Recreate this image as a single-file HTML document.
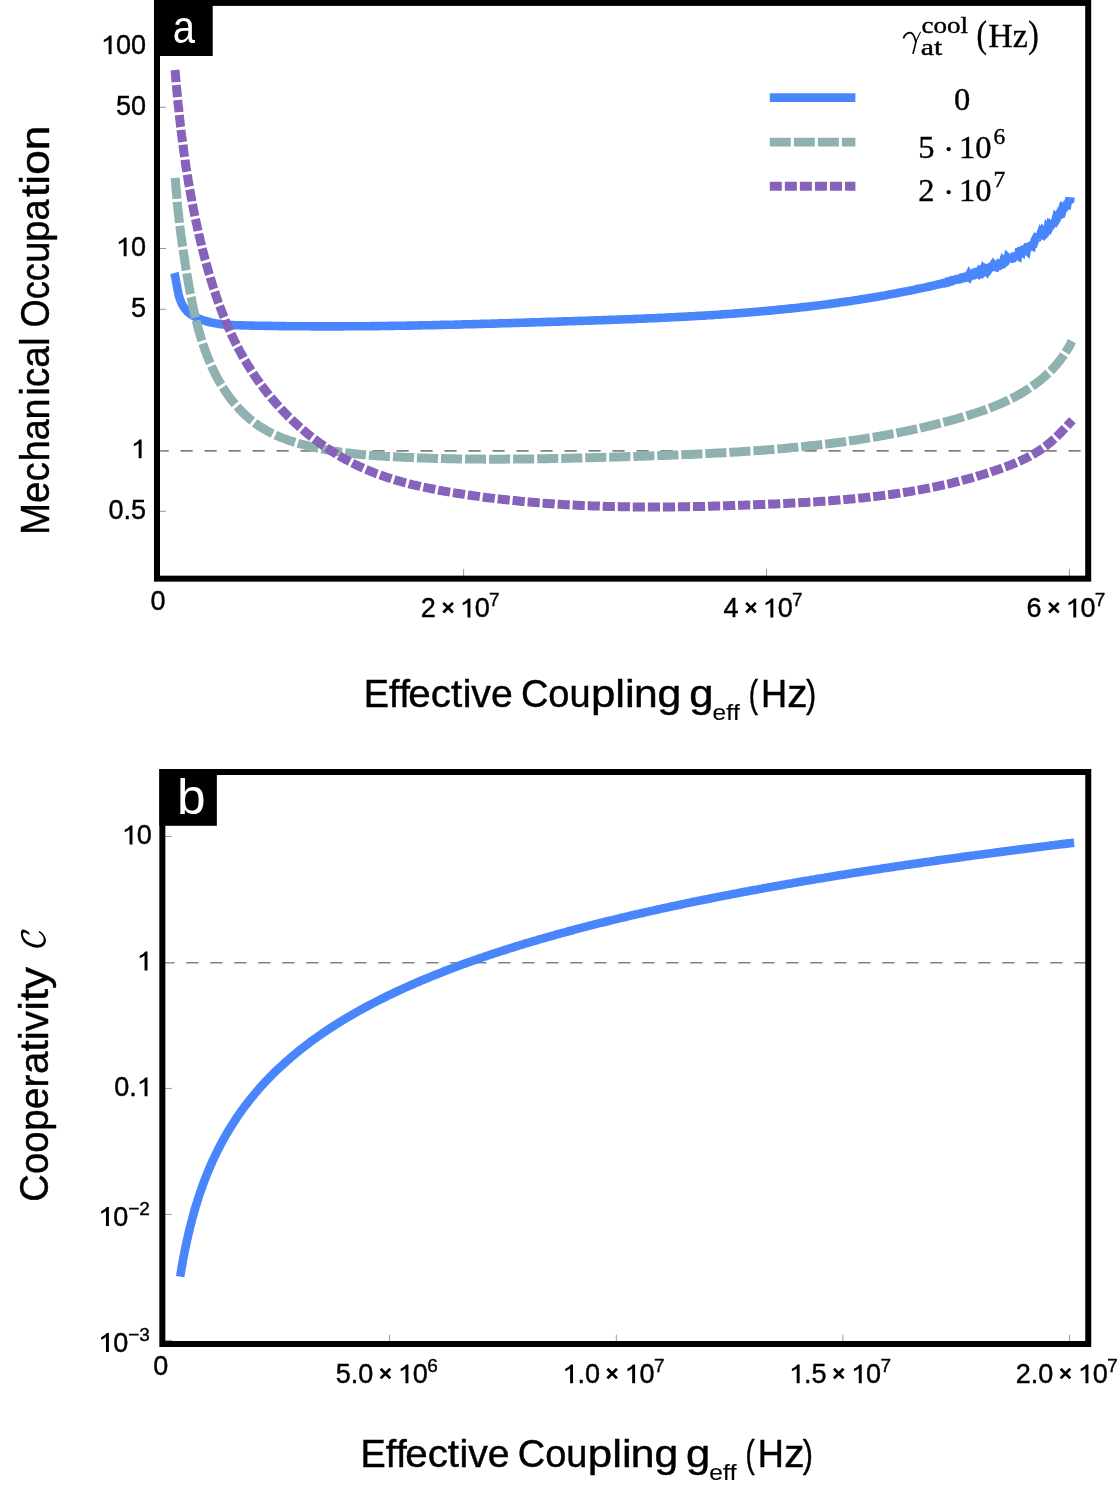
<!DOCTYPE html>
<html><head><meta charset="utf-8"><title>Figure</title>
<style>html,body{margin:0;padding:0;background:#fff;}svg{display:block;will-change:transform;}text{font-family:"Liberation Sans",sans-serif;fill:#000;}.t{font-size:27px;stroke:#000;stroke-width:0.42px;}.s{font-size:19px;stroke:#000;stroke-width:0.4px;}.ser{font-family:"Liberation Serif",serif;stroke:#000;stroke-width:0.4px;}</style></head><body>
<svg width="1117" height="1492" viewBox="0 0 1117 1492">
<rect x="0" y="0" width="1117" height="1492" fill="#fff"/>
<line x1="156.5" y1="450.95" x2="1085.5" y2="450.95" stroke="#828282" stroke-width="1.7" stroke-dasharray="12.2 11.8"/>
<line x1="159" y1="46.5" x2="166" y2="46.5" stroke="#999999" stroke-width="1"/>
<line x1="159" y1="107.3" x2="166" y2="107.3" stroke="#999999" stroke-width="1"/>
<line x1="159" y1="248.5" x2="166" y2="248.5" stroke="#999999" stroke-width="1"/>
<line x1="159" y1="309.3" x2="166" y2="309.3" stroke="#999999" stroke-width="1"/>
<line x1="159" y1="450.5" x2="166" y2="450.5" stroke="#999999" stroke-width="1"/>
<line x1="159" y1="511.3" x2="166" y2="511.3" stroke="#999999" stroke-width="1"/>
<line x1="463.6" y1="569" x2="463.6" y2="577" stroke="#999999" stroke-width="1"/>
<line x1="766.5" y1="569" x2="766.5" y2="577" stroke="#999999" stroke-width="1"/>
<line x1="1069.4" y1="569" x2="1069.4" y2="577" stroke="#999999" stroke-width="1"/>
<path d="M174.3 273.0 L174.8 274.8 L175.2 276.7 L175.6 278.6 L176.0 280.5 L176.3 282.5 L176.7 284.6 L177.0 286.6 L177.4 288.6 L177.8 290.7 L178.2 292.7 L178.6 294.7 L179.2 296.7 L179.8 298.7 L180.5 300.6 L181.2 302.4 L182.1 304.2 L183.1 306.0 L184.2 307.6 L185.3 309.2 L186.6 310.7 L188.0 312.1 L189.5 313.3 L191.1 314.5 L192.8 315.5 L194.5 316.5 L196.3 317.4 L198.1 318.3 L199.9 319.0 L201.8 319.7 L203.6 320.4 L205.5 321.0 L207.4 321.5 L209.3 322.0 L211.2 322.5 L213.2 322.9 L215.1 323.3 L217.1 323.6 L219.1 323.9 L221.1 324.1 L223.0 324.4 L225.0 324.6 L227.1 324.7 L229.1 324.9 L231.1 325.0 L233.1 325.1 L235.2 325.2 L237.2 325.3 L239.2 325.3 L241.2 325.4 L243.3 325.4 L245.3 325.5 L247.3 325.5 L249.4 325.5 L251.4 325.6 L253.4 325.6 L255.4 325.7 L257.4 325.7 L259.5 325.7 L261.5 325.8 L263.5 325.8 L265.5 325.9 L267.5 325.9 L269.5 325.9 L271.5 325.9 L273.5 326.0 L275.5 326.0 L277.5 326.0 L279.5 326.1 L281.5 326.1 L283.5 326.1 L285.5 326.1 L287.5 326.2 L289.5 326.2 L291.5 326.2 L293.5 326.2 L295.5 326.3 L297.5 326.3 L299.5 326.3 L301.5 326.3 L303.5 326.3 L305.5 326.3 L307.5 326.3 L309.5 326.3 L311.5 326.4 L313.5 326.4 L315.5 326.4 L317.5 326.4 L319.5 326.4 L321.5 326.4 L323.5 326.4 L325.5 326.4 L327.5 326.4 L329.5 326.4 L331.5 326.4 L333.5 326.4 L335.5 326.4 L337.5 326.4 L339.5 326.4 L341.5 326.4 L343.5 326.4 L345.5 326.3 L347.5 326.3 L349.5 326.3 L351.5 326.3 L353.5 326.3 L355.5 326.3 L357.5 326.3 L359.5 326.3 L361.5 326.2 L363.5 326.2 L365.5 326.2 L367.5 326.2 L369.5 326.2 L371.5 326.1 L373.5 326.1 L375.5 326.1 L377.5 326.1 L379.5 326.1 L381.5 326.0 L383.5 326.0 L385.5 326.0 L387.5 326.0 L389.5 325.9 L391.5 325.9 L393.5 325.9 L395.5 325.8 L397.5 325.8 L399.5 325.8 L401.5 325.7 L403.5 325.7 L405.5 325.7 L407.5 325.6 L409.5 325.6 L411.5 325.6 L413.5 325.5 L415.5 325.5 L417.5 325.5 L419.5 325.4 L421.5 325.4 L423.5 325.3 L425.5 325.3 L427.5 325.2 L429.5 325.2 L431.6 325.2 L433.6 325.1 L435.6 325.1 L437.6 325.0 L439.6 325.0 L441.6 324.9 L443.6 324.9 L445.6 324.8 L447.6 324.8 L449.6 324.8 L451.6 324.7 L453.6 324.7 L455.6 324.6 L457.6 324.6 L459.6 324.5 L461.6 324.5 L463.6 324.4 L465.6 324.3 L467.6 324.3 L469.6 324.2 L471.6 324.2 L473.6 324.1 L475.6 324.1 L477.6 324.0 L479.6 324.0 L481.6 323.9 L483.6 323.9 L485.6 323.8 L487.6 323.8 L489.6 323.7 L491.6 323.6 L493.7 323.6 L495.7 323.5 L497.7 323.5 L499.7 323.4 L501.7 323.3 L503.7 323.3 L505.7 323.2 L507.7 323.2 L509.7 323.1 L511.7 323.0 L513.7 323.0 L515.7 322.9 L517.7 322.9 L519.7 322.8 L521.7 322.7 L523.7 322.7 L525.7 322.6 L527.7 322.6 L529.7 322.5 L531.7 322.4 L533.7 322.4 L535.7 322.3 L537.7 322.3 L539.7 322.2 L541.7 322.1 L543.7 322.1 L545.7 322.0 L547.7 321.9 L549.8 321.9 L551.8 321.8 L553.8 321.7 L555.8 321.7 L557.8 321.6 L559.8 321.6 L561.8 321.5 L563.8 321.4 L565.8 321.4 L567.8 321.3 L569.8 321.2 L571.8 321.2 L573.8 321.1 L575.8 321.0 L577.8 321.0 L579.8 320.9 L581.8 320.9 L583.8 320.8 L585.8 320.7 L587.8 320.7 L589.8 320.6 L591.8 320.5 L593.8 320.5 L595.8 320.4 L597.8 320.3 L599.8 320.3 L601.8 320.2 L603.8 320.1 L605.8 320.0 L607.8 320.0 L609.8 319.9 L611.9 319.8 L613.9 319.8 L615.9 319.7 L617.9 319.6 L619.9 319.5 L621.9 319.5 L623.9 319.4 L625.9 319.3 L627.9 319.2 L629.9 319.2 L631.9 319.1 L633.9 319.0 L635.9 318.9 L637.9 318.8 L639.9 318.8 L641.9 318.7 L643.9 318.6 L645.9 318.5 L647.9 318.4 L649.9 318.3 L651.9 318.3 L653.9 318.2 L655.9 318.1 L657.9 318.0 L659.9 317.9 L661.9 317.8 L663.9 317.7 L665.9 317.6 L667.9 317.5 L669.9 317.4 L671.9 317.3 L673.9 317.2 L675.9 317.1 L677.9 317.0 L679.9 316.9 L681.9 316.8 L683.9 316.7 L685.9 316.6 L687.9 316.5 L689.9 316.4 L691.9 316.3 L693.9 316.2 L695.9 316.0 L697.9 315.9 L699.9 315.8 L701.9 315.7 L703.9 315.6 L705.9 315.5 L707.9 315.3 L709.9 315.2 L711.9 315.1 L713.9 315.0 L715.9 314.8 L717.9 314.7 L719.9 314.6 L721.9 314.4 L723.9 314.3 L725.8 314.1 L727.8 314.0 L729.8 313.9 L731.8 313.7 L733.8 313.6 L735.8 313.4 L737.8 313.3 L739.8 313.1 L741.8 313.0 L743.8 312.8 L745.8 312.7 L747.8 312.5 L749.8 312.3 L751.8 312.2 L753.8 312.0 L755.8 311.8 L757.8 311.7 L759.8 311.5 L761.8 311.3 L763.7 311.1 L765.7 311.0 L767.7 310.8 L769.7 310.6 L771.7 310.4 L773.7 310.2 L775.7 310.0 L777.7 309.8 L779.7 309.6 L781.7 309.4 L783.7 309.2 L785.7 309.0 L787.6 308.8 L789.6 308.6 L791.6 308.4 L793.6 308.2 L795.6 308.0 L797.6 307.8 L799.6 307.6 L801.6 307.3 L803.6 307.1 L805.6 306.9 L807.5 306.7 L809.5 306.4 L811.5 306.2 L813.5 305.9 L815.5 305.7 L817.5 305.5 L819.5 305.2 L821.4 305.0 L823.4 304.7 L825.4 304.5 L827.4 304.2 L829.4 303.9 L831.4 303.7 L833.4 303.4 L835.3 303.1 L837.3 302.9 L839.3 302.6 L841.3 302.3 L843.3 302.0 L845.3 301.7 L847.3 301.4 L849.2 301.2 L851.2 300.9 L853.2 300.6 L855.2 300.3 L857.2 300.0 L859.1 299.7 L861.1 299.3 L863.1 299.0 L865.1 298.7 L867.1 298.4 L869.0 298.1 L871.0 297.7 L873.0 297.4 L875.0 297.1 L877.0 296.7 L878.9 296.4 L880.9 296.1 L882.9 295.7 L884.9 295.4 L886.9 295.0 L888.8 294.6 L890.8 294.3 L892.8 293.9 L894.8 293.5 L896.7 293.2 L898.7 292.8 L900.7 292.4 L902.7 292.0 L904.6 291.6 L906.6 291.3 L908.6 290.9 L910.6 290.5 L912.5 290.1 L914.5 289.7 L916.5 289.2 L918.4 288.8 L920.4 288.4 L922.4 288.0 L924.4 287.6 L926.3 287.1 L928.3 286.7 L930.3 286.3" fill="none" stroke="#4a86fb" stroke-width="8.6" stroke-linejoin="round"/>
<path d="M928.3 286.7 L930.3 286.3 L932.2 285.8 L933.0 285.6 L933.8 285.5 L934.6 285.3 L935.4 285.1 L936.1 284.9 L936.9 284.7 L937.7 284.5 L938.5 284.4 L939.3 284.2 L940.0 284.1 L940.8 283.9 L941.6 283.6 L942.4 283.3 L943.2 283.2 L943.9 283.3 L944.7 282.7 L945.5 282.7 L946.3 282.8 L947.0 282.0 L947.8 282.2 L948.6 282.2 L949.4 281.4 L950.1 281.4 L950.9 281.4 L951.7 280.5 L952.5 280.7 L953.2 280.7 L954.0 280.4 L954.8 280.0 L955.6 279.4 L956.3 279.5 L957.1 279.1 L957.9 279.1 L958.6 278.8 L959.4 279.3 L960.2 279.1 L960.9 278.1 L961.7 278.1 L962.5 277.3 L963.2 277.2 L964.0 277.0 L964.8 277.5 L965.5 276.9 L966.3 277.1 L967.1 277.3 L967.8 276.3 L968.6 276.9 L969.4 275.0 L970.1 276.0 L970.9 275.0 L971.6 274.8 L972.4 275.0 L973.2 274.3 L973.9 273.7 L974.7 272.3 L975.4 272.1 L976.2 273.6 L976.9 273.1 L977.7 273.5 L978.5 274.1 L979.2 273.2 L980.0 271.2 L980.7 271.7 L981.5 272.3 L982.2 270.9 L983.0 272.7 L983.7 272.3 L984.5 271.6 L985.2 270.0 L985.9 270.7 L986.7 268.0 L987.4 268.0 L988.2 268.5 L988.9 269.4 L989.6 268.5 L990.4 267.3 L991.1 267.3 L991.9 266.6 L992.6 265.8 L993.3 264.7 L994.1 265.6 L994.8 265.8 L995.5 267.0 L996.2 267.2 L997.0 265.7 L997.7 264.9 L998.4 265.7 L999.1 265.7 L999.9 264.3 L1000.6 264.3 L1001.3 264.3 L1002.0 260.1 L1002.7 263.3 L1003.5 260.6 L1004.2 261.2 L1004.9 262.4 L1005.6 261.8 L1006.3 259.0 L1007.0 260.9 L1007.7 258.0 L1008.4 258.7 L1009.1 260.0 L1009.8 257.7 L1010.5 257.8 L1011.2 258.4 L1011.9 258.7 L1012.6 258.5 L1013.3 255.2 L1014.0 256.3 L1014.7 255.8 L1015.4 253.3 L1016.0 254.7 L1016.7 254.9 L1017.4 255.7 L1018.1 256.1 L1018.8 252.4 L1019.4 252.4 L1020.1 253.8 L1020.8 251.0 L1021.4 251.0 L1022.1 251.6 L1022.8 248.9 L1023.4 250.6 L1024.1 250.0 L1024.7 246.3 L1025.4 248.4 L1026.0 249.4 L1026.7 250.1 L1027.3 246.3 L1028.0 245.2 L1028.6 247.5 L1029.3 247.0 L1029.9 243.7 L1030.5 244.6 L1031.2 245.6 L1031.8 245.9 L1032.4 242.3 L1033.0 243.8 L1033.7 243.8 L1034.3 242.0 L1034.9 239.8 L1035.5 238.7 L1036.1 239.2 L1036.7 240.9 L1037.3 237.3 L1037.9 236.9 L1038.5 238.2 L1039.1 236.7 L1039.7 235.9 L1040.3 234.3 L1040.9 235.4 L1041.5 235.0 L1042.1 233.6 L1042.7 232.1 L1043.2 232.8 L1043.8 233.7 L1044.4 234.5 L1044.9 234.0 L1045.5 230.0 L1046.1 228.3 L1046.6 231.1 L1047.2 230.7 L1047.7 227.9 L1048.3 228.5 L1048.8 228.8 L1049.4 227.6 L1049.9 228.6 L1050.5 224.8 L1051.0 225.1 L1051.5 224.4 L1052.1 223.0 L1052.6 225.7 L1053.1 221.5 L1053.6 223.9 L1054.1 220.9 L1054.7 221.7 L1055.2 221.2 L1055.7 219.3 L1056.2 220.0 L1056.7 219.2 L1057.2 217.5 L1057.7 218.5 L1058.1 215.2 L1058.6 214.5 L1059.1 215.0 L1059.6 214.9 L1060.1 213.9 L1060.5 216.8 L1061.0 215.2 L1061.4 210.8 L1061.9 210.7 L1062.4 208.9 L1062.8 209.2 L1063.2 207.7 L1063.7 208.0 L1064.1 209.1 L1064.6 206.5 L1065.0 207.4 L1065.4 206.9 L1065.8 207.4 L1066.2 203.5 L1066.7 205.5 L1067.1 205.5 L1067.5 203.0 L1067.9 201.0 L1068.2 201.9 L1068.6 201.4 L1069.0 200.4 L1069.4 197.8 L1069.8 201.1 L1070.1 200.6 L1070.5 197.3" fill="none" stroke="#4a86fb" stroke-width="8.6" stroke-linejoin="miter" stroke-miterlimit="2.5"/>
<path d="M175.2 177.9 L175.4 179.9 L175.5 182.0 L175.7 184.0 L175.8 186.0 L176.0 188.1 L176.2 190.1 L176.3 192.1 L176.5 194.1 L176.7 196.1 L176.9 198.1 L177.1 200.1 L177.2 202.1 L177.4 204.1 L177.6 206.1 L177.8 208.1 L178.0 210.1 L178.2 212.1 L178.5 214.1 L178.7 216.1 L178.9 218.0 L179.1 220.0 L179.4 222.0 L179.6 224.0 L179.8 225.9 L180.1 227.9 L180.3 229.9 L180.6 231.8 L180.8 233.8 L181.1 235.8 L181.3 237.7 L181.6 239.7 L181.9 241.6 L182.1 243.6 L182.4 245.6 L182.7 247.5 L183.0 249.5 L183.3 251.4 L183.6 253.4 L183.9 255.4 L184.2 257.3 L184.5 259.3 L184.8 261.2 L185.1 263.2 L185.4 265.2 L185.7 267.1 L186.0 269.1 L186.4 271.1 L186.7 273.0 L187.0 275.0 L187.4 277.0 L187.7 278.9 L188.1 280.9 L188.4 282.9 L188.8 284.9 L189.1 286.9 L189.5 288.8 L189.8 290.8 L190.2 292.8 L190.6 294.8 L191.0 296.8 L191.4 298.7 L191.8 300.7 L192.2 302.7 L192.6 304.7 L193.0 306.7 L193.4 308.7 L193.9 310.6 L194.3 312.6 L194.8 314.6 L195.2 316.6 L195.7 318.5 L196.2 320.5 L196.7 322.5 L197.2 324.4 L197.7 326.4 L198.2 328.3 L198.7 330.3 L199.3 332.2 L199.9 334.2 L200.4 336.1 L201.0 338.0 L201.6 340.0 L202.2 341.9 L202.8 343.8 L203.5 345.7 L204.1 347.6 L204.8 349.5 L205.5 351.4 L206.2 353.2 L206.9 355.1 L207.6 357.0 L208.4 358.8 L209.1 360.7 L209.9 362.5 L210.7 364.4 L211.5 366.2 L212.3 368.0 L213.2 369.8 L214.0 371.6 L214.9 373.4 L215.8 375.1 L216.8 376.9 L217.7 378.7 L218.7 380.4 L219.6 382.1 L220.6 383.8 L221.7 385.6 L222.7 387.2 L223.8 388.9 L224.9 390.6 L226.0 392.3 L227.1 393.9 L228.3 395.5 L229.4 397.1 L230.6 398.7 L231.9 400.3 L233.1 401.9 L234.4 403.4 L235.7 404.9 L237.0 406.4 L238.3 407.9 L239.6 409.4 L241.0 410.8 L242.4 412.2 L243.8 413.6 L245.3 415.0 L246.7 416.3 L248.2 417.6 L249.7 418.9 L251.3 420.2 L252.8 421.4 L254.4 422.6 L256.0 423.8 L257.6 424.9 L259.2 426.1 L260.9 427.1 L262.6 428.2 L264.3 429.2 L266.0 430.2 L267.7 431.2 L269.5 432.1 L271.2 433.0 L273.0 433.9 L274.8 434.8 L276.6 435.6 L278.5 436.4 L280.3 437.2 L282.2 437.9 L284.1 438.6 L285.9 439.3 L287.8 440.0 L289.7 440.7 L291.6 441.3 L293.6 441.9 L295.5 442.5 L297.4 443.1 L299.3 443.7 L301.3 444.2 L303.2 444.7 L305.2 445.2 L307.2 445.7 L309.1 446.2 L311.1 446.7 L313.0 447.1 L315.0 447.5 L317.0 448.0 L318.9 448.4 L320.9 448.8 L322.9 449.1 L324.9 449.5 L326.8 449.9 L328.8 450.2 L330.8 450.6 L332.8 450.9 L334.8 451.2 L336.7 451.5 L338.7 451.8 L340.7 452.1 L342.7 452.3 L344.7 452.6 L346.7 452.9 L348.7 453.1 L350.6 453.3 L352.6 453.6 L354.6 453.8 L356.6 454.0 L358.6 454.2 L360.6 454.4 L362.6 454.6 L364.6 454.8 L366.6 455.0 L368.6 455.1 L370.6 455.3 L372.6 455.4 L374.6 455.6 L376.6 455.7 L378.6 455.9 L380.6 456.0 L382.6 456.1 L384.6 456.3 L386.6 456.4 L388.6 456.5 L390.6 456.6 L392.6 456.7 L394.6 456.8 L396.6 456.9 L398.6 457.0 L400.6 457.1 L402.6 457.2 L404.6 457.3 L406.6 457.4 L408.6 457.5 L410.6 457.5 L412.6 457.6 L414.6 457.7 L416.6 457.8 L418.6 457.9 L420.6 457.9 L422.6 458.0 L424.6 458.1 L426.6 458.1 L428.6 458.2 L430.6 458.3 L432.6 458.3 L434.6 458.4 L436.6 458.4 L438.6 458.5 L440.6 458.5 L442.6 458.6 L444.6 458.6 L446.6 458.7 L448.6 458.7 L450.6 458.8 L452.6 458.8 L454.6 458.8 L456.6 458.9 L458.6 458.9 L460.6 458.9 L462.6 459.0 L464.6 459.0 L466.6 459.0 L468.6 459.0 L470.6 459.1 L472.5 459.1 L474.5 459.1 L476.5 459.1 L478.5 459.1 L480.5 459.1 L482.5 459.1 L484.5 459.2 L486.5 459.2 L488.5 459.2 L490.5 459.2 L492.5 459.2 L494.5 459.2 L496.5 459.2 L498.5 459.2 L500.5 459.2 L502.5 459.2 L504.5 459.2 L506.5 459.1 L508.5 459.1 L510.5 459.1 L512.5 459.1 L514.5 459.1 L516.5 459.1 L518.5 459.1 L520.5 459.1 L522.5 459.0 L524.5 459.0 L526.5 459.0 L528.5 459.0 L530.5 458.9 L532.5 458.9 L534.5 458.9 L536.5 458.9 L538.5 458.8 L540.5 458.8 L542.5 458.8 L544.5 458.7 L546.5 458.7 L548.5 458.7 L550.5 458.6 L552.5 458.6 L554.5 458.6 L556.5 458.5 L558.5 458.5 L560.5 458.4 L562.5 458.4 L564.5 458.4 L566.5 458.3 L568.5 458.3 L570.5 458.2 L572.5 458.2 L574.5 458.1 L576.5 458.1 L578.5 458.0 L580.5 458.0 L582.5 457.9 L584.5 457.9 L586.5 457.8 L588.5 457.8 L590.5 457.7 L592.5 457.7 L594.5 457.6 L596.5 457.6 L598.5 457.5 L600.5 457.5 L602.5 457.4 L604.5 457.3 L606.5 457.3 L608.5 457.2 L610.5 457.2 L612.5 457.1 L614.5 457.0 L616.5 457.0 L618.5 456.9 L620.5 456.9 L622.5 456.8 L624.5 456.7 L626.5 456.7 L628.5 456.6 L630.5 456.6 L632.5 456.5 L634.5 456.4 L636.6 456.4 L638.6 456.3 L640.6 456.2 L642.6 456.2 L644.6 456.1 L646.6 456.0 L648.6 456.0 L650.6 455.9 L652.6 455.8 L654.6 455.8 L656.6 455.7 L658.6 455.6 L660.6 455.6 L662.6 455.5 L664.6 455.4 L666.6 455.3 L668.6 455.3 L670.6 455.2 L672.6 455.1 L674.6 455.0 L676.6 455.0 L678.6 454.9 L680.6 454.8 L682.6 454.7 L684.6 454.6 L686.6 454.5 L688.6 454.5 L690.6 454.4 L692.6 454.3 L694.6 454.2 L696.6 454.1 L698.6 454.0 L700.6 453.9 L702.6 453.8 L704.6 453.7 L706.6 453.6 L708.6 453.5 L710.6 453.4 L712.6 453.3 L714.6 453.2 L716.6 453.1 L718.6 453.0 L720.6 452.9 L722.6 452.8 L724.6 452.7 L726.6 452.6 L728.6 452.5 L730.6 452.3 L732.6 452.2 L734.6 452.1 L736.6 452.0 L738.6 451.9 L740.6 451.7 L742.6 451.6 L744.6 451.5 L746.6 451.3 L748.6 451.2 L750.6 451.1 L752.6 450.9 L754.6 450.8 L756.6 450.6 L758.6 450.5 L760.6 450.4 L762.6 450.2 L764.6 450.0 L766.5 449.9 L768.5 449.7 L770.5 449.6 L772.5 449.4 L774.5 449.2 L776.5 449.1 L778.5 448.9 L780.5 448.7 L782.5 448.6 L784.5 448.4 L786.5 448.2 L788.5 448.0 L790.5 447.8 L792.4 447.6 L794.4 447.5 L796.4 447.3 L798.4 447.1 L800.4 446.9 L802.4 446.7 L804.4 446.5 L806.4 446.2 L808.4 446.0 L810.3 445.8 L812.3 445.6 L814.3 445.4 L816.3 445.2 L818.3 444.9 L820.3 444.7 L822.3 444.5 L824.3 444.2 L826.2 444.0 L828.2 443.8 L830.2 443.5 L832.2 443.3 L834.2 443.0 L836.2 442.7 L838.1 442.5 L840.1 442.2 L842.1 442.0 L844.1 441.7 L846.1 441.4 L848.0 441.1 L850.0 440.8 L852.0 440.6 L854.0 440.3 L855.9 440.0 L857.9 439.7 L859.9 439.4 L861.9 439.1 L863.8 438.8 L865.8 438.5 L867.8 438.1 L869.8 437.8 L871.7 437.5 L873.7 437.2 L875.7 436.8 L877.7 436.5 L879.6 436.2 L881.6 435.8 L883.6 435.5 L885.5 435.1 L887.5 434.7 L889.5 434.4 L891.4 434.0 L893.4 433.6 L895.4 433.3 L897.3 432.9 L899.3 432.5 L901.2 432.1 L903.2 431.7 L905.2 431.3 L907.1 430.9 L909.1 430.5 L911.0 430.1 L913.0 429.7 L914.9 429.2 L916.9 428.8 L918.9 428.4 L920.8 427.9 L922.8 427.5 L924.7 427.0 L926.7 426.6 L928.6 426.1 L930.6 425.6 L932.5 425.2 L934.5 424.7 L936.4 424.2 L938.3 423.7 L940.3 423.2 L942.2 422.7 L944.2 422.2 L946.1 421.7 L948.0 421.2 L950.0 420.6 L951.9 420.1 L953.9 419.6 L955.8 419.0 L957.7 418.5 L959.7 417.9 L961.6 417.4 L963.5 416.8 L965.4 416.2 L967.4 415.6 L969.3 415.0 L971.2 414.4 L973.1 413.8 L975.1 413.2 L977.0 412.6 L978.9 411.9 L980.8 411.3 L982.7 410.6 L984.6 410.0 L986.5 409.3 L988.3 408.6 L990.2 407.9 L992.1 407.2 L994.0 406.4 L995.8 405.7 L997.7 404.9 L999.5 404.1 L1001.3 403.3 L1003.2 402.5 L1005.0 401.7 L1006.8 400.9 L1008.6 400.0 L1010.4 399.1 L1012.2 398.2 L1014.0 397.3 L1015.7 396.4 L1017.5 395.4 L1019.2 394.5 L1020.9 393.5 L1022.6 392.5 L1024.4 391.4 L1026.0 390.4 L1027.7 389.3 L1029.4 388.2 L1031.0 387.1 L1032.7 385.9 L1034.3 384.8 L1035.9 383.6 L1037.5 382.4 L1039.0 381.2 L1040.6 379.9 L1042.1 378.7 L1043.6 377.4 L1045.1 376.1 L1046.6 374.7 L1048.0 373.4 L1049.5 372.0 L1050.9 370.6 L1052.3 369.2 L1053.6 367.7 L1055.0 366.2 L1056.3 364.7 L1057.6 363.2 L1058.9 361.6 L1060.1 360.1 L1061.3 358.5 L1062.5 356.8 L1063.7 355.2 L1064.8 353.5 L1065.9 351.8 L1067.0 350.1 L1068.0 348.3 L1069.1 346.6 L1070.1 344.8 L1071.0 342.9 L1072.0 341.1" fill="none" stroke="#8fb1af" stroke-width="9.0" stroke-dasharray="21.1 2.95" stroke-linejoin="round"/>
<path d="M175.0 70.0 L175.2 72.0 L175.4 74.0 L175.5 76.0 L175.7 78.0 L175.9 80.0 L176.1 82.0 L176.2 84.0 L176.4 86.0 L176.6 88.0 L176.8 90.0 L177.0 92.0 L177.2 94.0 L177.3 96.0 L177.5 98.0 L177.7 100.0 L177.9 102.0 L178.1 104.0 L178.3 106.0 L178.6 108.0 L178.8 109.9 L179.0 111.9 L179.2 113.9 L179.4 115.9 L179.6 117.9 L179.8 119.9 L180.1 121.9 L180.3 123.9 L180.5 125.9 L180.8 127.8 L181.0 129.8 L181.2 131.8 L181.5 133.8 L181.7 135.8 L182.0 137.8 L182.2 139.8 L182.5 141.7 L182.8 143.7 L183.0 145.7 L183.3 147.7 L183.6 149.7 L183.8 151.6 L184.1 153.6 L184.4 155.6 L184.7 157.6 L185.0 159.6 L185.2 161.5 L185.5 163.5 L185.8 165.5 L186.1 167.5 L186.4 169.4 L186.8 171.4 L187.1 173.4 L187.4 175.4 L187.7 177.3 L188.0 179.3 L188.4 181.3 L188.7 183.2 L189.0 185.2 L189.4 187.2 L189.7 189.1 L190.1 191.1 L190.4 193.1 L190.8 195.0 L191.1 197.0 L191.5 199.0 L191.9 200.9 L192.2 202.9 L192.6 204.9 L193.0 206.8 L193.4 208.8 L193.8 210.7 L194.2 212.7 L194.6 214.7 L195.0 216.6 L195.4 218.6 L195.8 220.5 L196.2 222.5 L196.7 224.4 L197.1 226.4 L197.5 228.3 L198.0 230.3 L198.4 232.2 L198.8 234.2 L199.3 236.1 L199.8 238.1 L200.2 240.0 L200.7 242.0 L201.2 243.9 L201.6 245.9 L202.1 247.8 L202.6 249.8 L203.1 251.7 L203.6 253.6 L204.1 255.6 L204.6 257.5 L205.1 259.5 L205.7 261.4 L206.2 263.3 L206.7 265.3 L207.3 267.2 L207.8 269.1 L208.4 271.1 L208.9 273.0 L209.5 274.9 L210.1 276.9 L210.6 278.8 L211.2 280.7 L211.8 282.6 L212.4 284.5 L213.0 286.5 L213.6 288.4 L214.3 290.3 L214.9 292.2 L215.5 294.1 L216.2 296.0 L216.8 297.9 L217.5 299.8 L218.1 301.7 L218.8 303.6 L219.5 305.4 L220.2 307.3 L220.9 309.2 L221.6 311.1 L222.3 312.9 L223.1 314.8 L223.8 316.7 L224.6 318.5 L225.3 320.4 L226.1 322.2 L226.9 324.1 L227.7 325.9 L228.4 327.7 L229.3 329.5 L230.1 331.4 L230.9 333.2 L231.7 335.0 L232.6 336.8 L233.4 338.6 L234.3 340.4 L235.2 342.2 L236.1 344.0 L237.0 345.8 L237.9 347.5 L238.8 349.3 L239.8 351.1 L240.7 352.8 L241.7 354.6 L242.7 356.3 L243.6 358.0 L244.6 359.8 L245.7 361.5 L246.7 363.2 L247.7 364.9 L248.8 366.6 L249.8 368.3 L250.9 370.0 L252.0 371.7 L253.1 373.4 L254.2 375.0 L255.3 376.7 L256.4 378.3 L257.6 380.0 L258.8 381.6 L259.9 383.2 L261.1 384.8 L262.3 386.4 L263.5 388.0 L264.7 389.6 L266.0 391.2 L267.2 392.8 L268.5 394.4 L269.7 395.9 L271.0 397.5 L272.3 399.0 L273.6 400.5 L274.9 402.0 L276.2 403.5 L277.6 405.0 L278.9 406.5 L280.3 408.0 L281.6 409.5 L283.0 410.9 L284.4 412.4 L285.8 413.8 L287.2 415.3 L288.6 416.7 L290.1 418.1 L291.5 419.5 L293.0 420.9 L294.4 422.2 L295.9 423.6 L297.4 424.9 L298.9 426.3 L300.4 427.6 L301.9 428.9 L303.4 430.2 L304.9 431.5 L306.5 432.8 L308.0 434.1 L309.6 435.3 L311.1 436.6 L312.7 437.8 L314.3 439.0 L315.9 440.2 L317.5 441.4 L319.1 442.6 L320.7 443.8 L322.4 444.9 L324.0 446.1 L325.7 447.2 L327.3 448.3 L329.0 449.4 L330.6 450.5 L332.3 451.6 L334.0 452.7 L335.7 453.7 L337.4 454.7 L339.1 455.8 L340.9 456.8 L342.6 457.8 L344.3 458.7 L346.1 459.7 L347.8 460.6 L349.6 461.6 L351.3 462.5 L353.1 463.4 L354.9 464.3 L356.7 465.2 L358.5 466.0 L360.3 466.9 L362.1 467.7 L363.9 468.5 L365.7 469.3 L367.6 470.1 L369.4 470.8 L371.3 471.6 L373.1 472.3 L375.0 473.1 L376.8 473.8 L378.7 474.4 L380.6 475.1 L382.4 475.8 L384.3 476.4 L386.2 477.1 L388.1 477.7 L390.0 478.3 L391.9 478.9 L393.8 479.5 L395.7 480.1 L397.7 480.6 L399.6 481.2 L401.5 481.7 L403.4 482.3 L405.4 482.8 L407.3 483.3 L409.2 483.8 L411.2 484.3 L413.1 484.8 L415.1 485.2 L417.0 485.7 L419.0 486.1 L421.0 486.6 L422.9 487.0 L424.9 487.4 L426.9 487.8 L428.8 488.2 L430.8 488.6 L432.8 489.0 L434.8 489.4 L436.7 489.8 L438.7 490.2 L440.7 490.5 L442.7 490.9 L444.7 491.2 L446.7 491.6 L448.7 491.9 L450.6 492.2 L452.6 492.6 L454.6 492.9 L456.6 493.2 L458.6 493.5 L460.6 493.8 L462.6 494.1 L464.6 494.4 L466.6 494.7 L468.5 495.0 L470.5 495.3 L472.5 495.6 L474.5 495.9 L476.5 496.1 L478.5 496.4 L480.5 496.7 L482.5 496.9 L484.5 497.2 L486.4 497.5 L488.4 497.7 L490.4 498.0 L492.4 498.2 L494.4 498.4 L496.4 498.7 L498.4 498.9 L500.4 499.1 L502.4 499.4 L504.3 499.6 L506.3 499.8 L508.3 500.0 L510.3 500.2 L512.3 500.4 L514.3 500.6 L516.3 500.8 L518.3 501.0 L520.3 501.2 L522.3 501.4 L524.2 501.6 L526.2 501.8 L528.2 501.9 L530.2 502.1 L532.2 502.3 L534.2 502.5 L536.2 502.6 L538.2 502.8 L540.2 502.9 L542.2 503.1 L544.1 503.2 L546.1 503.4 L548.1 503.5 L550.1 503.7 L552.1 503.8 L554.1 503.9 L556.1 504.1 L558.1 504.2 L560.1 504.3 L562.1 504.4 L564.1 504.6 L566.1 504.7 L568.0 504.8 L570.0 504.9 L572.0 505.0 L574.0 505.1 L576.0 505.2 L578.0 505.3 L580.0 505.4 L582.0 505.5 L584.0 505.6 L586.0 505.7 L588.0 505.7 L590.0 505.8 L592.0 505.9 L594.0 506.0 L596.0 506.0 L598.0 506.1 L599.9 506.2 L601.9 506.2 L603.9 506.3 L605.9 506.4 L607.9 506.4 L609.9 506.5 L611.9 506.5 L613.9 506.6 L615.9 506.6 L617.9 506.6 L619.9 506.7 L621.9 506.7 L623.9 506.8 L625.9 506.8 L627.9 506.8 L629.9 506.8 L631.9 506.9 L633.9 506.9 L635.9 506.9 L637.9 506.9 L639.9 506.9 L641.9 507.0 L643.9 507.0 L645.9 507.0 L647.9 507.0 L649.9 507.0 L651.8 507.0 L653.8 507.0 L655.8 507.0 L657.8 507.0 L659.8 507.0 L661.8 507.0 L663.8 507.0 L665.8 506.9 L667.8 506.9 L669.8 506.9 L671.8 506.9 L673.8 506.9 L675.8 506.8 L677.8 506.8 L679.8 506.8 L681.8 506.8 L683.8 506.7 L685.8 506.7 L687.8 506.7 L689.8 506.6 L691.8 506.6 L693.8 506.6 L695.8 506.5 L697.8 506.5 L699.8 506.5 L701.8 506.4 L703.8 506.4 L705.8 506.3 L707.8 506.3 L709.8 506.2 L711.9 506.2 L713.9 506.1 L715.9 506.1 L717.9 506.0 L719.9 505.9 L721.9 505.9 L723.9 505.8 L725.9 505.8 L727.9 505.7 L729.9 505.6 L731.9 505.6 L733.9 505.5 L735.9 505.4 L737.9 505.4 L739.9 505.3 L741.9 505.2 L743.9 505.2 L745.9 505.1 L747.9 505.0 L749.9 504.9 L751.9 504.9 L753.9 504.8 L755.9 504.7 L757.9 504.6 L759.9 504.6 L761.9 504.5 L764.0 504.4 L766.0 504.3 L768.0 504.2 L770.0 504.1 L772.0 504.1 L774.0 504.0 L776.0 503.9 L778.0 503.8 L780.0 503.7 L782.0 503.6 L784.0 503.5 L786.0 503.4 L788.0 503.3 L790.0 503.2 L792.0 503.1 L794.0 503.0 L796.0 502.9 L798.0 502.8 L800.1 502.7 L802.1 502.6 L804.1 502.5 L806.1 502.4 L808.1 502.2 L810.1 502.1 L812.1 502.0 L814.1 501.9 L816.1 501.7 L818.1 501.6 L820.1 501.5 L822.1 501.3 L824.1 501.2 L826.1 501.1 L828.1 500.9 L830.1 500.8 L832.1 500.6 L834.1 500.5 L836.1 500.3 L838.1 500.1 L840.1 500.0 L842.1 499.8 L844.1 499.6 L846.1 499.5 L848.1 499.3 L850.1 499.1 L852.1 498.9 L854.0 498.7 L856.0 498.5 L858.0 498.3 L860.0 498.1 L862.0 497.9 L864.0 497.7 L866.0 497.5 L868.0 497.3 L870.0 497.1 L871.9 496.8 L873.9 496.6 L875.9 496.4 L877.9 496.1 L879.9 495.9 L881.9 495.6 L883.8 495.4 L885.8 495.1 L887.8 494.8 L889.8 494.6 L891.8 494.3 L893.7 494.0 L895.7 493.7 L897.7 493.4 L899.7 493.1 L901.6 492.8 L903.6 492.5 L905.6 492.2 L907.5 491.9 L909.5 491.6 L911.5 491.2 L913.4 490.9 L915.4 490.6 L917.4 490.2 L919.3 489.9 L921.3 489.5 L923.2 489.1 L925.2 488.8 L927.2 488.4 L929.1 488.0 L931.1 487.6 L933.0 487.2 L935.0 486.8 L936.9 486.4 L938.9 486.0 L940.8 485.5 L942.8 485.1 L944.7 484.7 L946.6 484.2 L948.6 483.8 L950.5 483.3 L952.5 482.9 L954.4 482.4 L956.3 481.9 L958.3 481.4 L960.2 480.9 L962.1 480.4 L964.1 479.9 L966.0 479.4 L967.9 478.9 L969.8 478.3 L971.8 477.8 L973.7 477.2 L975.6 476.7 L977.5 476.1 L979.4 475.5 L981.3 475.0 L983.3 474.4 L985.2 473.8 L987.1 473.2 L989.0 472.6 L990.9 471.9 L992.8 471.3 L994.7 470.7 L996.6 470.0 L998.5 469.4 L1000.4 468.7 L1002.3 468.0 L1004.1 467.3 L1006.0 466.7 L1007.9 465.9 L1009.8 465.2 L1011.7 464.5 L1013.5 463.7 L1015.4 463.0 L1017.2 462.2 L1019.1 461.4 L1020.9 460.6 L1022.7 459.7 L1024.5 458.9 L1026.3 458.0 L1028.1 457.1 L1029.9 456.2 L1031.6 455.2 L1033.3 454.2 L1035.1 453.2 L1036.8 452.2 L1038.5 451.1 L1040.1 450.1 L1041.8 448.9 L1043.4 447.8 L1045.0 446.6 L1046.6 445.4 L1048.2 444.1 L1049.8 442.8 L1051.3 441.5 L1052.8 440.2 L1054.3 438.8 L1055.8 437.5 L1057.2 436.1 L1058.7 434.6 L1060.1 433.2 L1061.5 431.8 L1062.9 430.3 L1064.3 428.9 L1065.7 427.4 L1067.1 425.9 L1068.4 424.5 L1069.8 423.0 L1071.1 421.6 L1072.4 420.2" fill="none" stroke="#8662ba" stroke-width="9.0" stroke-dasharray="12.2 2.85" stroke-linejoin="round"/>
<rect x="157" y="2.9" width="931.2" height="575.75" fill="none" stroke="#000" stroke-width="6"/>
<rect x="154" y="0" width="58.7" height="56" fill="#000"/>
<text x="172.8" y="43.2" style="font-size:47px;fill:#fff" textLength="22.2" lengthAdjust="spacingAndGlyphs">a</text>
<path d="M108.63 54.30 L111.56 54.30 L111.56 35.48 L109.50 35.48 Q107.70 38.10 103.79 39.67 L103.79 42.23 Q106.70 41.10 108.63 39.44 Z" fill="#000"/>
<text class="t" x="115.92" y="54.3">00</text>
<text class="t" x="115.92" y="115.1">50</text>
<path d="M123.65 256.30 L126.58 256.30 L126.58 237.48 L124.52 237.48 Q122.72 240.10 118.81 241.67 L118.81 244.23 Q121.72 243.10 123.65 241.44 Z" fill="#000"/>
<text class="t" x="130.93" y="256.3">0</text>
<text class="t" x="130.93" y="317.1">5</text>
<path d="M138.66 458.30 L141.59 458.30 L141.59 439.48 L139.53 439.48 Q137.73 442.10 133.82 443.67 L133.82 446.23 Q136.73 445.10 138.66 443.44 Z" fill="#000"/>
<text class="t" x="108.42" y="519.1">0.5</text>
<text class="t" x="150.55" y="609.8">0</text>
<text class="t" x="420.65" y="617.4">2</text>
<path d="M443.30 602.90 L452.90 612.50 M443.30 612.50 L452.90 602.90" stroke="#000" stroke-width="2.75" fill="none"/>
<path d="M467.48 617.40 L470.41 617.40 L470.41 598.58 L468.35 598.58 Q466.55 601.20 462.64 602.77 L462.64 605.33 Q465.55 604.20 467.48 602.54 Z" fill="#000"/>
<text class="t" x="474.77" y="617.4">0</text>
<text class="s" x="489.05" y="606.2">7</text>
<text class="t" x="723.55" y="617.4">4</text>
<path d="M746.20 602.90 L755.80 612.50 M746.20 612.50 L755.80 602.90" stroke="#000" stroke-width="2.75" fill="none"/>
<path d="M770.38 617.40 L773.31 617.40 L773.31 598.58 L771.25 598.58 Q769.45 601.20 765.54 602.77 L765.54 605.33 Q768.45 604.20 770.38 602.54 Z" fill="#000"/>
<text class="t" x="777.67" y="617.4">0</text>
<text class="s" x="791.95" y="606.2">7</text>
<text class="t" x="1026.45" y="617.4">6</text>
<path d="M1049.10 602.90 L1058.70 612.50 M1049.10 612.50 L1058.70 602.90" stroke="#000" stroke-width="2.75" fill="none"/>
<path d="M1073.28 617.40 L1076.21 617.40 L1076.21 598.58 L1074.15 598.58 Q1072.35 601.20 1068.44 602.77 L1068.44 605.33 Q1071.35 604.20 1073.28 602.54 Z" fill="#000"/>
<text class="t" x="1080.57" y="617.4">0</text>
<text class="s" x="1094.85" y="606.2">7</text>
<line x1="769.8" y1="97.6" x2="855.4" y2="97.6" stroke="#4a86fb" stroke-width="8.9"/>
<line x1="769.8" y1="142.1" x2="855.4" y2="142.1" stroke="#8fb1af" stroke-width="8.8" stroke-dasharray="21.0 3.05"/>
<line x1="769.8" y1="186.3" x2="855.4" y2="186.3" stroke="#8662ba" stroke-width="8.9" stroke-dasharray="12.0 3.05"/>
<g class="ser">
<path d="M903.69 37.64 C904.85 34.74 907.13 32.92 909.82 32.65 C912.64 32.54 914.25 35.55 915.59 40.79" fill="none" stroke="#000" stroke-width="1.75" stroke-linecap="round"/>
<path d="M920.51 32.11 C918.95 35.28 916.94 39.04 915.94 42.00" fill="none" stroke="#000" stroke-width="1.05" stroke-linecap="round"/>
<path d="M916.05 41.19 C915.19 45.49 914.25 49.52 913.10 53.22" fill="none" stroke="#000" stroke-width="1.6" stroke-linecap="round"/>
<text class="ser" x="921.5" y="32.9" style="font-size:22.5px" textLength="46.5" lengthAdjust="spacingAndGlyphs">cool</text>
<text class="ser" x="920.7" y="54.6" style="font-size:22.5px" textLength="21.5" lengthAdjust="spacingAndGlyphs">at</text>
<text class="ser" x="976.6" y="47.4" style="font-size:37.5px" textLength="10.5" lengthAdjust="spacingAndGlyphs">(</text>
<text class="ser" x="988.3" y="46.6" style="font-size:33.5px" textLength="39.5" lengthAdjust="spacingAndGlyphs">Hz</text>
<text class="ser" x="1028.2" y="47.4" style="font-size:37.5px" textLength="10.5" lengthAdjust="spacingAndGlyphs">)</text>
<text class="ser" x="954.0" y="110.0" style="font-size:32.5px">0</text>
<text class="ser" x="918.2" y="158.0" style="font-size:32.5px">5</text>
<text class="ser" x="943.3" y="159.6" style="font-size:32.5px">·</text>
<text class="ser" x="958.9" y="158.0" style="font-size:32.5px">10</text>
<text class="ser" x="993.6" y="144.2" style="font-size:23.5px">6</text>
<text class="ser" x="918.2" y="201.0" style="font-size:32.5px">2</text>
<text class="ser" x="943.3" y="202.6" style="font-size:32.5px">·</text>
<text class="ser" x="958.9" y="201.0" style="font-size:32.5px">10</text>
<text class="ser" x="993.6" y="187.2" style="font-size:23.5px">7</text>
</g>
<g transform="translate(0,0)">
<text x="363.80" y="707" style="font-size:39.5px;font-kerning:none;stroke:#000;stroke-width:0.45px;" textLength="46.25" lengthAdjust="spacingAndGlyphs">Eff</text>
<text x="408.38" y="707" style="font-size:39.5px;font-kerning:none;stroke:#000;stroke-width:0.45px;" textLength="53.91" lengthAdjust="spacingAndGlyphs">ect</text>
<text x="462.67" y="707" style="font-size:39.5px;font-kerning:none;stroke:#000;stroke-width:0.45px;" textLength="50.17" lengthAdjust="spacingAndGlyphs">ive</text>
<text x="520.97" y="707" style="font-size:39.5px;font-kerning:none;stroke:#000;stroke-width:0.45px;" textLength="69.60" lengthAdjust="spacingAndGlyphs">Cou</text>
<text x="590.97" y="707" style="font-size:39.5px;font-kerning:none;stroke:#000;stroke-width:0.45px;" textLength="43.88" lengthAdjust="spacingAndGlyphs">pli</text>
<text x="633.92" y="707" style="font-size:39.5px;font-kerning:none;stroke:#000;stroke-width:0.45px;" textLength="47.43" lengthAdjust="spacingAndGlyphs">ng</text>
<text x="689.17" y="707" style="font-size:39.5px;font-kerning:none;stroke:#000;stroke-width:0.45px;" textLength="24.24" lengthAdjust="spacingAndGlyphs">g</text>
<text x="748.77" y="707" style="font-size:39.5px;font-kerning:none;stroke:#000;stroke-width:0.45px;" textLength="9.29" lengthAdjust="spacingAndGlyphs">(</text>
<text x="760.93" y="707" style="font-size:39.5px;font-kerning:none;stroke:#000;stroke-width:0.45px;" textLength="26.12" lengthAdjust="spacingAndGlyphs">H</text>
<text x="787.36" y="707" style="font-size:39.5px;font-kerning:none;stroke:#000;stroke-width:0.45px;" textLength="20.26" lengthAdjust="spacingAndGlyphs">z</text>
<text x="806.02" y="707" style="font-size:39.5px;font-kerning:none;stroke:#000;stroke-width:0.45px;" textLength="10.17" lengthAdjust="spacingAndGlyphs">)</text>
<text x="712.56" y="720.3" style="font-size:21.5px;font-kerning:none;stroke:#000;stroke-width:0.45px;stroke-width:0.15px;" textLength="27.20" lengthAdjust="spacingAndGlyphs">eff</text>
</g>
<g transform="translate(49,0) rotate(-90)">
<text x="-535.06" y="0" style="font-size:40.5px;font-kerning:none;stroke:#000;stroke-width:0.45px;" textLength="72.67" lengthAdjust="spacingAndGlyphs">Mec</text>
<text x="-461.31" y="0" style="font-size:40.5px;font-kerning:none;stroke:#000;stroke-width:0.45px;" textLength="62.86" lengthAdjust="spacingAndGlyphs">han</text>
<text x="-395.80" y="0" style="font-size:40.5px;font-kerning:none;stroke:#000;stroke-width:0.45px;" textLength="58.41" lengthAdjust="spacingAndGlyphs">ical</text>
<text x="-327.51" y="0" style="font-size:40.5px;font-kerning:none;stroke:#000;stroke-width:0.45px;" textLength="64.37" lengthAdjust="spacingAndGlyphs">Occ</text>
<text x="-262.77" y="0" style="font-size:40.5px;font-kerning:none;stroke:#000;stroke-width:0.45px;" textLength="63.37" lengthAdjust="spacingAndGlyphs">upa</text>
<text x="-196.97" y="0" style="font-size:40.5px;font-kerning:none;stroke:#000;stroke-width:0.45px;" textLength="71.34" lengthAdjust="spacingAndGlyphs">tion</text>
</g>
<line x1="162.3" y1="962.7" x2="1085.5" y2="962.7" stroke="#828282" stroke-width="1.6" stroke-dasharray="12.2 11.8"/>
<line x1="165" y1="836.5" x2="171.8" y2="836.5" stroke="#999999" stroke-width="1"/>
<line x1="165" y1="962.5" x2="171.8" y2="962.5" stroke="#999999" stroke-width="1"/>
<line x1="165" y1="1088.4" x2="171.8" y2="1088.4" stroke="#999999" stroke-width="1"/>
<line x1="165" y1="1214.4" x2="171.8" y2="1214.4" stroke="#999999" stroke-width="1"/>
<line x1="165" y1="1340.4" x2="171.8" y2="1340.4" stroke="#999999" stroke-width="1"/>
<line x1="389.6" y1="1334.7" x2="389.6" y2="1342" stroke="#999999" stroke-width="1"/>
<line x1="616.3" y1="1334.7" x2="616.3" y2="1342" stroke="#999999" stroke-width="1"/>
<line x1="842.9" y1="1334.7" x2="842.9" y2="1342" stroke="#999999" stroke-width="1"/>
<line x1="1069.6" y1="1334.7" x2="1069.6" y2="1342" stroke="#999999" stroke-width="1"/>
<path d="M180.2 1276.7 L180.5 1274.8 L180.8 1272.9 L181.1 1271.0 L181.4 1269.1 L181.7 1267.2 L182.1 1265.3 L182.4 1263.4 L182.7 1261.5 L183.1 1259.6 L183.4 1257.7 L183.8 1255.8 L184.2 1253.9 L184.5 1252.0 L184.9 1250.1 L185.3 1248.2 L185.7 1246.3 L186.1 1244.5 L186.5 1242.6 L186.9 1240.7 L187.3 1238.8 L187.8 1236.9 L188.2 1235.0 L188.6 1233.1 L189.1 1231.2 L189.5 1229.3 L190.0 1227.4 L190.5 1225.5 L191.0 1223.6 L191.5 1221.7 L192.0 1219.8 L192.5 1217.9 L193.0 1216.0 L193.5 1214.1 L194.0 1212.2 L194.6 1210.3 L195.1 1208.4 L195.7 1206.5 L196.3 1204.6 L196.9 1202.7 L197.5 1200.8 L198.1 1198.9 L198.7 1197.0 L199.3 1195.1 L199.9 1193.2 L200.6 1191.3 L201.3 1189.4 L201.9 1187.5 L202.6 1185.6 L203.3 1183.7 L204.0 1181.8 L204.7 1179.9 L205.5 1178.0 L206.2 1176.1 L207.0 1174.2 L207.7 1172.3 L208.5 1170.4 L209.3 1168.5 L210.1 1166.6 L210.9 1164.7 L211.8 1162.8 L212.6 1160.9 L213.5 1159.0 L214.4 1157.2 L215.3 1155.3 L216.2 1153.4 L217.1 1151.5 L218.1 1149.6 L219.1 1147.7 L220.0 1145.8 L221.0 1143.9 L222.1 1142.0 L223.1 1140.1 L224.2 1138.2 L225.2 1136.3 L226.3 1134.4 L227.4 1132.5 L228.5 1130.6 L229.7 1128.7 L230.9 1126.8 L232.1 1124.9 L233.3 1123.0 L234.5 1121.1 L235.7 1119.2 L237.0 1117.3 L238.3 1115.4 L239.6 1113.5 L241.0 1111.6 L242.3 1109.7 L243.7 1107.8 L245.1 1105.9 L246.6 1104.0 L248.1 1102.1 L249.5 1100.2 L251.1 1098.3 L252.6 1096.4 L254.2 1094.5 L255.8 1092.6 L257.4 1090.7 L259.0 1088.8 L260.7 1086.9 L262.4 1085.0 L264.2 1083.1 L265.9 1081.2 L267.8 1079.3 L269.6 1077.4 L271.5 1075.5 L273.3 1073.6 L275.3 1071.7 L277.2 1069.9 L279.2 1068.0 L281.3 1066.1 L283.4 1064.2 L285.5 1062.3 L287.6 1060.4 L289.8 1058.5 L292.0 1056.6 L294.3 1054.7 L296.6 1052.8 L298.9 1050.9 L299.8 1050.1 L301.7 1048.6 L303.7 1047.1 L305.6 1045.6 L307.6 1044.1 L309.5 1042.7 L311.4 1041.2 L313.4 1039.8 L315.3 1038.4 L317.3 1037.0 L319.2 1035.6 L321.2 1034.3 L323.1 1033.0 L325.0 1031.6 L327.0 1030.3 L328.9 1029.0 L330.9 1027.8 L332.8 1026.5 L334.7 1025.3 L336.7 1024.0 L338.6 1022.8 L340.6 1021.6 L342.5 1020.4 L344.4 1019.3 L346.4 1018.1 L348.3 1016.9 L350.3 1015.8 L352.2 1014.7 L354.1 1013.6 L356.1 1012.5 L358.0 1011.4 L360.0 1010.3 L361.9 1009.2 L363.8 1008.1 L365.8 1007.1 L367.7 1006.1 L369.7 1005.0 L371.6 1004.0 L373.5 1003.0 L375.5 1002.0 L377.4 1001.0 L379.4 1000.0 L381.3 999.0 L383.3 998.1 L385.2 997.1 L387.1 996.1 L389.1 995.2 L391.0 994.3 L393.0 993.3 L394.9 992.4 L396.8 991.5 L398.8 990.6 L400.7 989.7 L402.7 988.8 L404.6 987.9 L406.5 987.1 L408.5 986.2 L410.4 985.3 L412.4 984.5 L414.3 983.6 L416.2 982.8 L418.2 982.0 L420.1 981.1 L422.1 980.3 L424.0 979.5 L425.9 978.7 L427.9 977.9 L429.8 977.1 L431.8 976.3 L433.7 975.5 L435.6 974.7 L437.6 973.9 L439.5 973.2 L441.5 972.4 L443.4 971.6 L445.3 970.9 L447.3 970.1 L449.2 969.4 L451.2 968.7 L453.1 967.9 L455.1 967.2 L457.0 966.5 L458.9 965.7 L460.9 965.0 L462.8 964.3 L464.8 963.6 L466.7 962.9 L468.6 962.2 L470.6 961.5 L472.5 960.8 L474.5 960.2 L476.4 959.5 L478.3 958.8 L480.3 958.1 L482.2 957.5 L484.2 956.8 L486.1 956.1 L488.0 955.5 L490.0 954.8 L491.9 954.2 L493.9 953.5 L495.8 952.9 L497.7 952.3 L499.7 951.6 L501.6 951.0 L503.6 950.4 L505.5 949.8 L507.4 949.1 L509.4 948.5 L511.3 947.9 L513.3 947.3 L515.2 946.7 L517.1 946.1 L519.1 945.5 L521.0 944.9 L523.0 944.3 L524.9 943.7 L526.9 943.1 L528.8 942.6 L530.7 942.0 L532.7 941.4 L534.6 940.8 L536.6 940.3 L538.5 939.7 L540.4 939.1 L542.4 938.6 L544.3 938.0 L546.3 937.5 L548.2 936.9 L550.1 936.4 L552.1 935.8 L554.0 935.3 L556.0 934.7 L557.9 934.2 L559.8 933.6 L561.8 933.1 L563.7 932.6 L565.7 932.1 L567.6 931.5 L569.5 931.0 L571.5 930.5 L573.4 930.0 L575.4 929.4 L577.3 928.9 L579.2 928.4 L581.2 927.9 L583.1 927.4 L585.1 926.9 L587.0 926.4 L589.0 925.9 L590.9 925.4 L592.8 924.9 L594.8 924.4 L596.7 923.9 L598.7 923.4 L600.6 922.9 L602.5 922.5 L604.5 922.0 L606.4 921.5 L608.4 921.0 L610.3 920.5 L612.2 920.1 L614.2 919.6 L616.1 919.1 L618.1 918.7 L620.0 918.2 L621.9 917.7 L623.9 917.3 L625.8 916.8 L627.8 916.4 L629.7 915.9 L631.6 915.4 L633.6 915.0 L635.5 914.5 L637.5 914.1 L639.4 913.6 L641.3 913.2 L643.3 912.8 L645.2 912.3 L647.2 911.9 L649.1 911.4 L651.0 911.0 L653.0 910.6 L654.9 910.1 L656.9 909.7 L658.8 909.3 L660.8 908.9 L662.7 908.4 L664.6 908.0 L666.6 907.6 L668.5 907.2 L670.5 906.7 L672.4 906.3 L674.3 905.9 L676.3 905.5 L678.2 905.1 L680.2 904.7 L682.1 904.3 L684.0 903.9 L686.0 903.4 L687.9 903.0 L689.9 902.6 L691.8 902.2 L693.7 901.8 L695.7 901.4 L697.6 901.0 L699.6 900.6 L701.5 900.2 L703.4 899.8 L705.4 899.5 L707.3 899.1 L709.3 898.7 L711.2 898.3 L713.1 897.9 L715.1 897.5 L717.0 897.1 L719.0 896.8 L720.9 896.4 L722.9 896.0 L724.8 895.6 L726.7 895.2 L728.7 894.9 L730.6 894.5 L732.6 894.1 L734.5 893.7 L736.4 893.4 L738.4 893.0 L740.3 892.6 L742.3 892.3 L744.2 891.9 L746.1 891.5 L748.1 891.2 L750.0 890.8 L752.0 890.4 L753.9 890.1 L755.8 889.7 L757.8 889.4 L759.7 889.0 L761.7 888.7 L763.6 888.3 L765.5 887.9 L767.5 887.6 L769.4 887.2 L771.4 886.9 L773.3 886.5 L775.2 886.2 L777.2 885.9 L779.1 885.5 L781.1 885.2 L783.0 884.8 L784.9 884.5 L786.9 884.1 L788.8 883.8 L790.8 883.5 L792.7 883.1 L794.7 882.8 L796.6 882.4 L798.5 882.1 L800.5 881.8 L802.4 881.4 L804.4 881.1 L806.3 880.8 L808.2 880.5 L810.2 880.1 L812.1 879.8 L814.1 879.5 L816.0 879.1 L817.9 878.8 L819.9 878.5 L821.8 878.2 L823.8 877.9 L825.7 877.5 L827.6 877.2 L829.6 876.9 L831.5 876.6 L833.5 876.3 L835.4 875.9 L837.3 875.6 L839.3 875.3 L841.2 875.0 L843.2 874.7 L845.1 874.4 L847.0 874.1 L849.0 873.8 L850.9 873.4 L852.9 873.1 L854.8 872.8 L856.7 872.5 L858.7 872.2 L860.6 871.9 L862.6 871.6 L864.5 871.3 L866.5 871.0 L868.4 870.7 L870.3 870.4 L872.3 870.1 L874.2 869.8 L876.2 869.5 L878.1 869.2 L880.0 868.9 L882.0 868.6 L883.9 868.3 L885.9 868.0 L887.8 867.7 L889.7 867.4 L891.7 867.1 L893.6 866.9 L895.6 866.6 L897.5 866.3 L899.4 866.0 L901.4 865.7 L903.3 865.4 L905.3 865.1 L907.2 864.8 L909.1 864.6 L911.1 864.3 L913.0 864.0 L915.0 863.7 L916.9 863.4 L918.8 863.1 L920.8 862.9 L922.7 862.6 L924.7 862.3 L926.6 862.0 L928.6 861.7 L930.5 861.5 L932.4 861.2 L934.4 860.9 L936.3 860.6 L938.3 860.4 L940.2 860.1 L942.1 859.8 L944.1 859.6 L946.0 859.3 L948.0 859.0 L949.9 858.7 L951.8 858.5 L953.8 858.2 L955.7 857.9 L957.7 857.7 L959.6 857.4 L961.5 857.1 L963.5 856.9 L965.4 856.6 L967.4 856.3 L969.3 856.1 L971.2 855.8 L973.2 855.5 L975.1 855.3 L977.1 855.0 L979.0 854.8 L980.9 854.5 L982.9 854.2 L984.8 854.0 L986.8 853.7 L988.7 853.5 L990.6 853.2 L992.6 853.0 L994.5 852.7 L996.5 852.4 L998.4 852.2 L1000.4 851.9 L1002.3 851.7 L1004.2 851.4 L1006.2 851.2 L1008.1 850.9 L1010.1 850.7 L1012.0 850.4 L1013.9 850.2 L1015.9 849.9 L1017.8 849.7 L1019.8 849.4 L1021.7 849.2 L1023.6 848.9 L1025.6 848.7 L1027.5 848.4 L1029.5 848.2 L1031.4 848.0 L1033.3 847.7 L1035.3 847.5 L1037.2 847.2 L1039.2 847.0 L1041.1 846.7 L1043.0 846.5 L1045.0 846.3 L1046.9 846.0 L1048.9 845.8 L1050.8 845.5 L1052.7 845.3 L1054.7 845.1 L1056.6 844.8 L1058.6 844.6 L1060.5 844.3 L1062.4 844.1 L1064.4 843.9 L1066.3 843.6 L1068.3 843.4 L1070.2 843.2 L1072.2 842.9 L1074.1 842.7" fill="none" stroke="#4a86fb" stroke-width="8.6" stroke-linejoin="round"/>
<rect x="162.35" y="772" width="925.9" height="572" fill="none" stroke="#000" stroke-width="6"/>
<rect x="159.35" y="769" width="57.5" height="56.8" fill="#000"/>
<text x="176.9" y="814.3" style="font-size:50.5px;fill:#fff" textLength="28.6" lengthAdjust="spacingAndGlyphs">b</text>
<path d="M129.55 844.40 L132.48 844.40 L132.48 825.58 L130.42 825.58 Q128.62 828.20 124.71 829.77 L124.71 832.33 Q127.62 831.20 129.55 829.54 Z" fill="#000"/>
<text class="t" x="136.83" y="844.4">0</text>
<path d="M144.56 970.40 L147.49 970.40 L147.49 951.58 L145.43 951.58 Q143.63 954.20 139.72 955.77 L139.72 958.33 Q142.63 957.20 144.56 955.54 Z" fill="#000"/>
<text class="t" x="114.32" y="1096.3">0.</text>
<path d="M144.56 1096.30 L147.49 1096.30 L147.49 1077.48 L145.43 1077.48 Q143.63 1080.10 139.72 1081.67 L139.72 1084.23 Q142.63 1083.10 144.56 1081.44 Z" fill="#000"/>
<path d="M105.98 1225.90 L108.91 1225.90 L108.91 1207.08 L106.85 1207.08 Q105.05 1209.70 101.14 1211.27 L101.14 1213.83 Q104.05 1212.70 105.98 1211.04 Z" fill="#000"/>
<text class="t" x="113.27" y="1225.9">0</text>
<text class="s" x="128.2" y="1214.5">−2</text>
<path d="M105.98 1351.90 L108.91 1351.90 L108.91 1333.08 L106.85 1333.08 Q105.05 1335.70 101.14 1337.27 L101.14 1339.83 Q104.05 1338.70 105.98 1337.04 Z" fill="#000"/>
<text class="t" x="113.27" y="1351.9">0</text>
<text class="s" x="128.2" y="1340.5">−3</text>
<text class="t" x="153.15" y="1375.3">0</text>
<text class="t" x="335.67" y="1383.3">5.0</text>
<path d="M380.65 1368.80 L390.25 1378.40 M380.65 1378.40 L390.25 1368.80" stroke="#000" stroke-width="2.75" fill="none"/>
<path d="M405.48 1383.30 L408.41 1383.30 L408.41 1364.48 L406.35 1364.48 Q404.55 1367.10 400.64 1368.67 L400.64 1371.23 Q403.55 1370.10 405.48 1368.44 Z" fill="#000"/>
<text class="t" x="412.77" y="1383.3">0</text>
<text class="s" x="427.30" y="1372.3">6</text>
<path d="M570.10 1383.30 L573.03 1383.30 L573.03 1364.48 L570.97 1364.48 Q569.17 1367.10 565.26 1368.67 L565.26 1371.23 Q568.17 1370.10 570.10 1368.44 Z" fill="#000"/>
<text class="t" x="577.39" y="1383.3">.0</text>
<path d="M607.35 1368.80 L616.95 1378.40 M607.35 1378.40 L616.95 1368.80" stroke="#000" stroke-width="2.75" fill="none"/>
<path d="M632.18 1383.30 L635.11 1383.30 L635.11 1364.48 L633.05 1364.48 Q631.25 1367.10 627.34 1368.67 L627.34 1371.23 Q630.25 1370.10 632.18 1368.44 Z" fill="#000"/>
<text class="t" x="639.47" y="1383.3">0</text>
<text class="s" x="654.00" y="1372.3">7</text>
<path d="M796.70 1383.30 L799.63 1383.30 L799.63 1364.48 L797.57 1364.48 Q795.77 1367.10 791.86 1368.67 L791.86 1371.23 Q794.77 1370.10 796.70 1368.44 Z" fill="#000"/>
<text class="t" x="803.99" y="1383.3">.5</text>
<path d="M833.95 1368.80 L843.55 1378.40 M833.95 1378.40 L843.55 1368.80" stroke="#000" stroke-width="2.75" fill="none"/>
<path d="M858.78 1383.30 L861.71 1383.30 L861.71 1364.48 L859.65 1364.48 Q857.85 1367.10 853.94 1368.67 L853.94 1371.23 Q856.85 1370.10 858.78 1368.44 Z" fill="#000"/>
<text class="t" x="866.07" y="1383.3">0</text>
<text class="s" x="880.60" y="1372.3">7</text>
<text class="t" x="1015.67" y="1383.3">2.0</text>
<path d="M1060.65 1368.80 L1070.25 1378.40 M1060.65 1378.40 L1070.25 1368.80" stroke="#000" stroke-width="2.75" fill="none"/>
<path d="M1085.48 1383.30 L1088.41 1383.30 L1088.41 1364.48 L1086.35 1364.48 Q1084.55 1367.10 1080.64 1368.67 L1080.64 1371.23 Q1083.55 1370.10 1085.48 1368.44 Z" fill="#000"/>
<text class="t" x="1092.77" y="1383.3">0</text>
<text class="s" x="1107.30" y="1372.3">7</text>
<g transform="translate(-3.2,760)">
<text x="363.80" y="707" style="font-size:39.5px;font-kerning:none;stroke:#000;stroke-width:0.45px;" textLength="46.25" lengthAdjust="spacingAndGlyphs">Eff</text>
<text x="408.38" y="707" style="font-size:39.5px;font-kerning:none;stroke:#000;stroke-width:0.45px;" textLength="53.91" lengthAdjust="spacingAndGlyphs">ect</text>
<text x="462.67" y="707" style="font-size:39.5px;font-kerning:none;stroke:#000;stroke-width:0.45px;" textLength="50.17" lengthAdjust="spacingAndGlyphs">ive</text>
<text x="520.97" y="707" style="font-size:39.5px;font-kerning:none;stroke:#000;stroke-width:0.45px;" textLength="69.60" lengthAdjust="spacingAndGlyphs">Cou</text>
<text x="590.97" y="707" style="font-size:39.5px;font-kerning:none;stroke:#000;stroke-width:0.45px;" textLength="43.88" lengthAdjust="spacingAndGlyphs">pli</text>
<text x="633.92" y="707" style="font-size:39.5px;font-kerning:none;stroke:#000;stroke-width:0.45px;" textLength="47.43" lengthAdjust="spacingAndGlyphs">ng</text>
<text x="689.17" y="707" style="font-size:39.5px;font-kerning:none;stroke:#000;stroke-width:0.45px;" textLength="24.24" lengthAdjust="spacingAndGlyphs">g</text>
<text x="748.77" y="707" style="font-size:39.5px;font-kerning:none;stroke:#000;stroke-width:0.45px;" textLength="9.29" lengthAdjust="spacingAndGlyphs">(</text>
<text x="760.93" y="707" style="font-size:39.5px;font-kerning:none;stroke:#000;stroke-width:0.45px;" textLength="26.12" lengthAdjust="spacingAndGlyphs">H</text>
<text x="787.36" y="707" style="font-size:39.5px;font-kerning:none;stroke:#000;stroke-width:0.45px;" textLength="20.26" lengthAdjust="spacingAndGlyphs">z</text>
<text x="806.02" y="707" style="font-size:39.5px;font-kerning:none;stroke:#000;stroke-width:0.45px;" textLength="10.17" lengthAdjust="spacingAndGlyphs">)</text>
<text x="712.56" y="720.3" style="font-size:21.5px;font-kerning:none;stroke:#000;stroke-width:0.45px;stroke-width:0.15px;" textLength="27.20" lengthAdjust="spacingAndGlyphs">eff</text>
</g>
<g transform="translate(48.0,0) rotate(-90)">
<text x="-1201.64" y="0" style="font-size:40.5px;font-kerning:none;stroke:#000;stroke-width:0.45px;" textLength="70.04" lengthAdjust="spacingAndGlyphs">Coo</text>
<text x="-1131.12" y="0" style="font-size:40.5px;font-kerning:none;stroke:#000;stroke-width:0.45px;" textLength="56.57" lengthAdjust="spacingAndGlyphs">per</text>
<text x="-1074.02" y="0" style="font-size:40.5px;font-kerning:none;stroke:#000;stroke-width:0.45px;" textLength="63.06" lengthAdjust="spacingAndGlyphs">ativ</text>
<text x="-1010.83" y="0" style="font-size:40.5px;font-kerning:none;stroke:#000;stroke-width:0.45px;" textLength="43.82" lengthAdjust="spacingAndGlyphs">ity</text>
</g>
<path d="M29.70 934.70 C29.84 934.40 29.32 932.91 28.80 932.23 C28.28 931.56 27.46 931.11 26.56 930.67 C25.67 930.22 24.29 929.59 23.43 929.55 C22.57 929.51 21.84 929.73 21.41 930.44 C20.99 931.15 20.80 932.49 20.88 933.80 C20.95 935.11 21.21 936.78 21.86 938.28 C22.51 939.77 23.39 941.48 24.77 942.75 C26.15 944.02 28.13 945.07 30.14 945.89 C32.16 946.71 34.84 947.56 36.86 947.68 C38.87 947.79 40.81 947.30 42.23 946.56 C43.65 945.81 44.77 944.43 45.36 943.20 C45.96 941.97 46.03 940.51 45.81 939.17 C45.59 937.83 44.77 936.30 44.02 935.14 C43.27 933.99 42.12 932.94 41.33 932.23 C40.55 931.52 39.71 930.89 39.32 930.89 C38.93 930.89 38.67 931.66 39.01 932.23 C39.34 932.81 40.61 933.48 41.33 934.34 C42.06 935.20 42.99 936.28 43.35 937.38 C43.71 938.49 43.82 939.92 43.48 940.96 C43.15 942.01 42.44 943.04 41.33 943.65 C40.23 944.26 38.57 944.69 36.86 944.63 C35.14 944.57 32.75 943.90 31.04 943.29 C29.32 942.68 27.74 941.87 26.56 940.96 C25.38 940.05 24.56 938.87 23.97 937.83 C23.37 936.78 23.07 935.50 22.98 934.70 C22.89 933.89 23.06 933.33 23.43 932.99 C23.80 932.66 24.47 932.51 25.22 932.68 C25.97 932.85 27.16 933.69 27.91 934.02 C28.65 934.36 29.55 934.99 29.70 934.70Z" fill="#000"/>
</svg></body></html>
